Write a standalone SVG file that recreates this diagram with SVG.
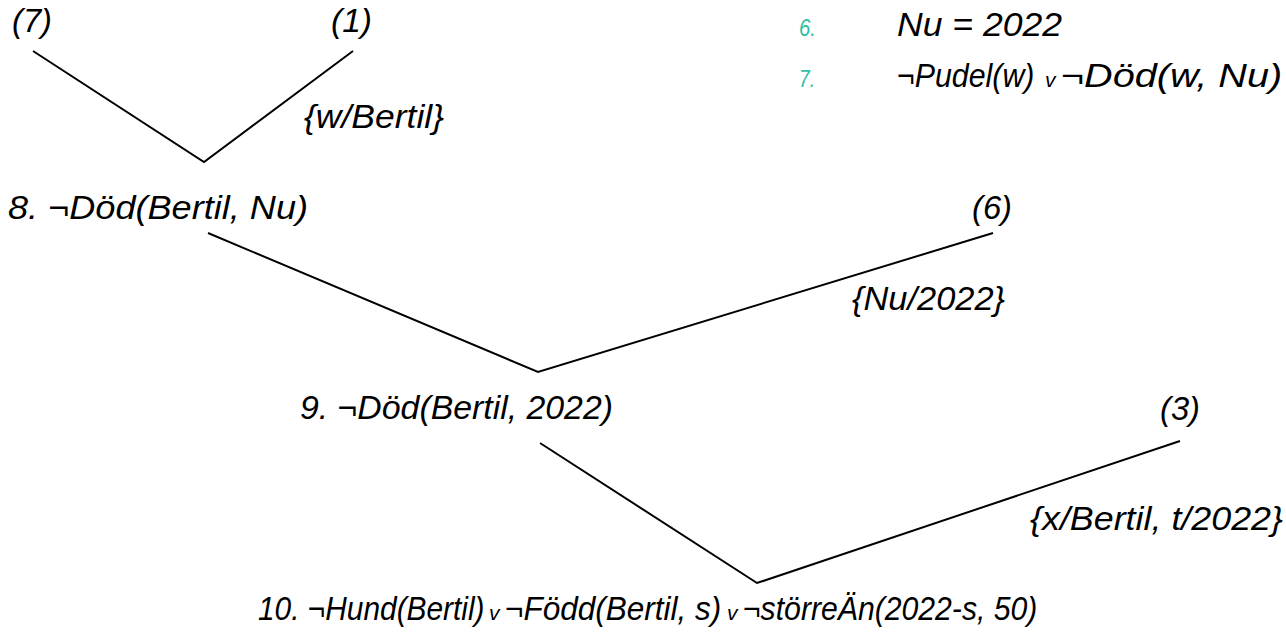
<svg xmlns="http://www.w3.org/2000/svg" width="1286" height="635" viewBox="0 0 1286 635">
  <style>
    .t { font-family: "Liberation Sans", Arial, sans-serif; font-style: italic; font-size: 33px; fill: #000; }
    .num { font-family: "Liberation Sans", Arial, sans-serif; font-style: italic; font-size: 24px; fill: #30c0a0; }
    .or { font-family: "Liberation Sans", Arial, sans-serif; font-style: italic; font-size: 21px; fill: #000; }
    .edge { stroke: #000; stroke-width: 2; fill: none; stroke-linecap: butt; }
  </style>
  <rect width="1286" height="635" fill="#fff"/>

  <!-- premises listed top right -->
  <g id="premise-6">
    <text class="num" x="799" y="36" textLength="17" lengthAdjust="spacingAndGlyphs">6.</text>
    <text class="t" x="897" y="36" textLength="165" lengthAdjust="spacingAndGlyphs">Nu = 2022</text>
  </g>
  <g id="premise-7">
    <text class="num" x="799" y="87" textLength="16" lengthAdjust="spacingAndGlyphs">7.</text>
    <text class="t" transform="translate(897,87) scale(0.92,1)">¬Pudel(w)</text>
    <text class="or" x="1045" y="87">v</text>
    <text class="t" transform="translate(1061,87) scale(1.2,1)">¬Död(w, Nu)</text>
  </g>

  <!-- resolution tree edges -->
  <g id="connectors">
    <polyline class="edge" points="33,51 204,162 353,51"/>
    <polyline class="edge" points="208,233 538,372 993,233"/>
    <polyline class="edge" points="540,443 757,583 1180,441"/>
  </g>

  <g id="clause-7">
    <text class="t" x="12" y="32" textLength="40" lengthAdjust="spacingAndGlyphs">(7)</text>
  </g>
  <g id="clause-1">
    <text class="t" x="331" y="32" textLength="41" lengthAdjust="spacingAndGlyphs">(1)</text>
  </g>
  <g id="subst-1">
    <text class="t" x="304" y="128" textLength="140" lengthAdjust="spacingAndGlyphs">{w/Bertil}</text>
  </g>
  <g id="clause-8">
    <text class="t" x="8" y="219" textLength="300" lengthAdjust="spacingAndGlyphs">8. ¬Död(Bertil, Nu)</text>
  </g>
  <g id="clause-6">
    <text class="t" x="972" y="219" textLength="40" lengthAdjust="spacingAndGlyphs">(6)</text>
  </g>
  <g id="subst-2">
    <text class="t" x="852" y="310" textLength="153" lengthAdjust="spacingAndGlyphs">{Nu/2022}</text>
  </g>
  <g id="clause-9">
    <text class="t" x="300" y="419" textLength="313" lengthAdjust="spacingAndGlyphs">9. ¬Död(Bertil, 2022)</text>
  </g>
  <g id="clause-3">
    <text class="t" x="1160" y="420" textLength="40" lengthAdjust="spacingAndGlyphs">(3)</text>
  </g>
  <g id="subst-3">
    <text class="t" x="1030" y="530" textLength="253" lengthAdjust="spacingAndGlyphs">{x/Bertil, t/2022}</text>
  </g>
  <g id="clause-10">
    <text class="t" transform="translate(258,620) scale(0.905,1)">10. ¬Hund(Bertil)</text>
    <text class="or" x="489" y="620">v</text>
    <text class="t" transform="translate(505,620) scale(0.955,1)">¬Född(Bertil, s)</text>
    <text class="or" x="727" y="620">v</text>
    <text class="t" transform="translate(743,620) scale(0.915,1)">¬störreÄn(2022-s, 50)</text>
  </g>
</svg>
